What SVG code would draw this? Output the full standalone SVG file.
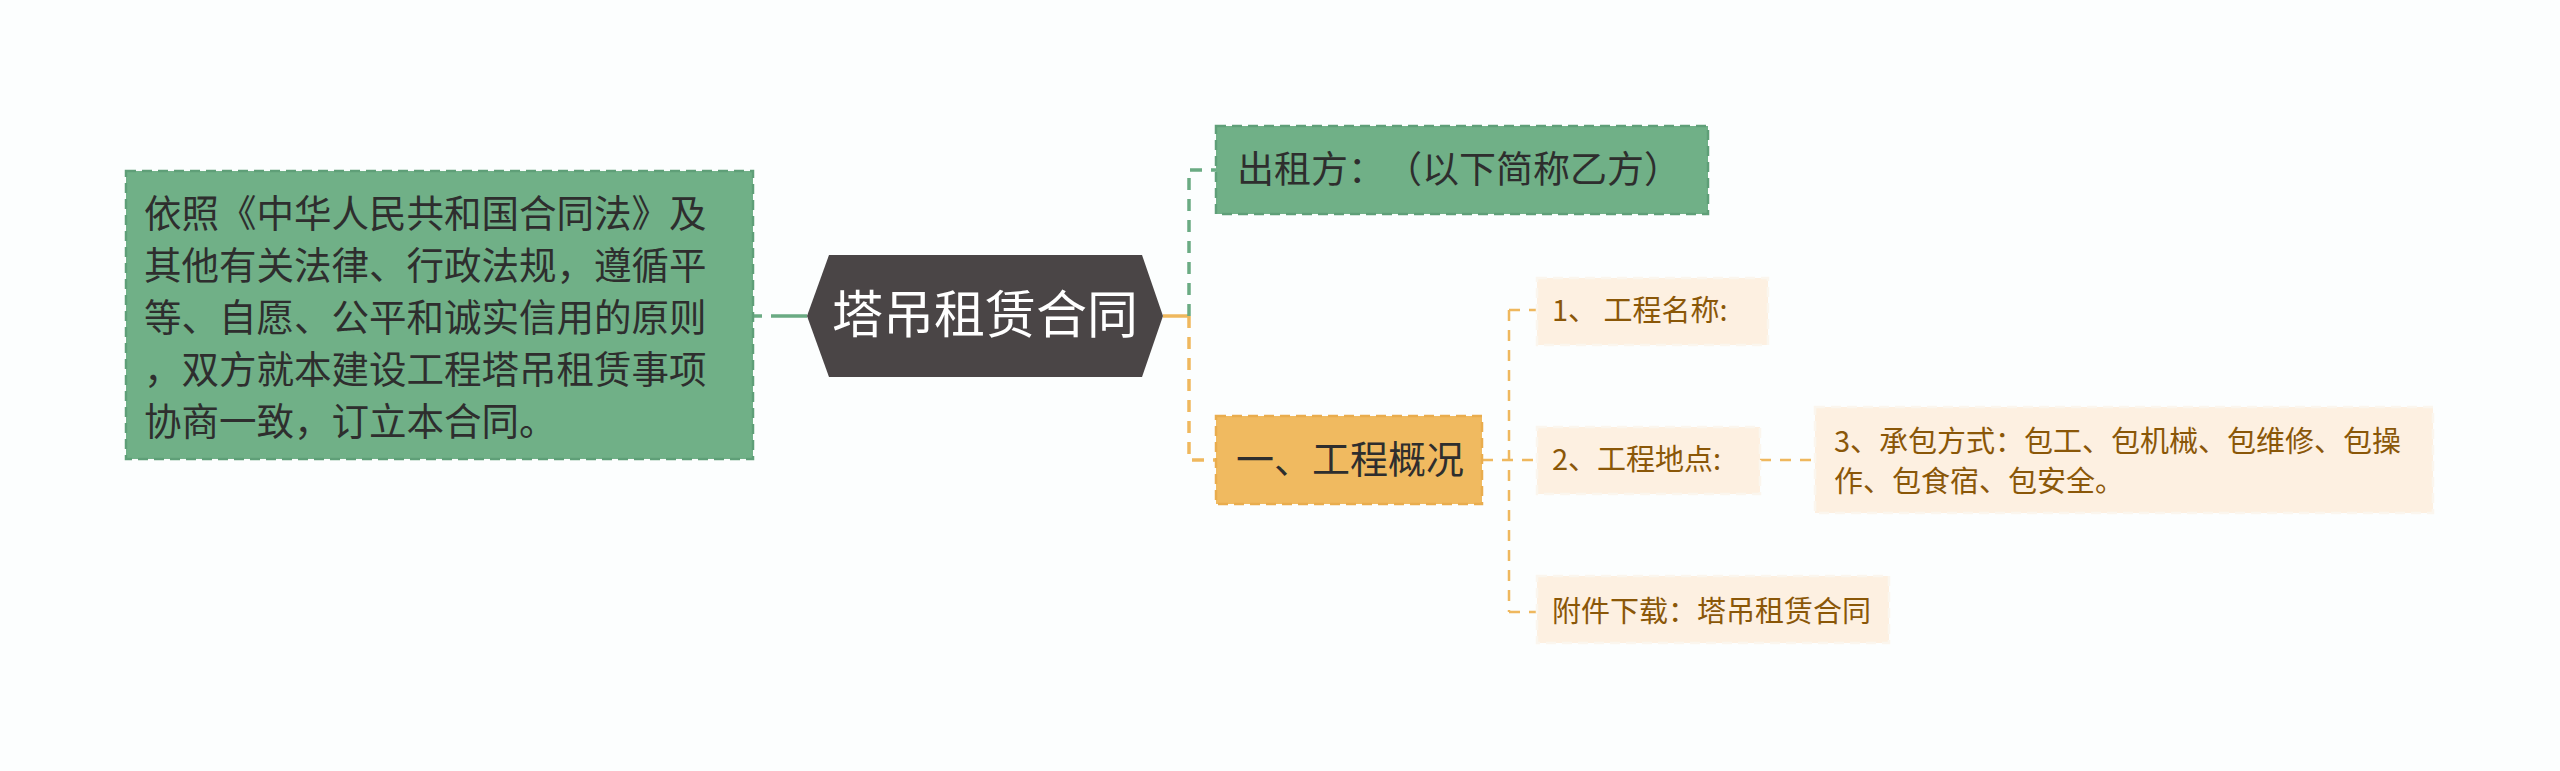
<svg xmlns="http://www.w3.org/2000/svg" width="2560" height="771" viewBox="0 0 2560 771">
<style>
.bg{fill:#fcfefe}
.gbox{fill:#70b087;stroke:#5f9f78;stroke-width:2.5;stroke-dasharray:10 6}
.obox{fill:#f0ba60;stroke:#e9ad4e;stroke-width:2.5;stroke-dasharray:10 6}
.lbox{fill:#fdf0e1;stroke:#fbf6ee;stroke-width:2.5;stroke-dasharray:10 6}
.t{font-family:"Noto Sans CJK SC","Noto Sans",sans-serif;text-spacing-trim:space-all}
.dk{fill:#2e2e2e}
.br{fill:#8a5708}
.cg{stroke:#6aab83;stroke-width:3.5;fill:none}
.co{stroke:#efb85e;stroke-width:3.5;fill:none}
.dash{stroke-dasharray:12 9}
.dash2{stroke-width:2.5;stroke-dasharray:11 9}
</style>
<rect class="bg" x="0" y="0" width="2560" height="771"/>
<g id="connectors">
<path class="cg" d="M753 316 H762 M771 316 H807"/>
<path class="co" d="M1163 316 H1189"/>
<path class="cg dash" d="M1189 316 V170 H1216"/>
<path class="co dash" d="M1189 316 V460 H1216"/>
<path class="co dash2" d="M1482 460 H1537"/>
<path class="co dash2" d="M1509 310 V612"/>
<path class="co dash2" d="M1509 310 H1537 M1509 612 H1537"/>
<path class="co dash2" d="M1760 460 H1815"/>
</g>
<g id="node-left">
<rect class="gbox" x="126" y="171" width="627" height="288"/>
<text class="t dk" font-size="37.5">
<tspan x="144" y="227">依照《中华人民共和国合同法》及</tspan>
<tspan x="144" y="279">其他有关法律、行政法规，遵循平</tspan>
<tspan x="144" y="331">等、自愿、公平和诚实信用的原则</tspan>
<tspan x="144" y="383">，双方就本建设工程塔吊租赁事项</tspan>
<tspan x="144" y="435">协商一致，订立本合同。</tspan>
</text>
</g>
<g id="node-root">
<polygon points="807,316 829,255 1142,255 1163,316 1142,377 829,377" fill="#4a4546"/>
<text class="t" font-size="51" fill="#ffffff" x="985" y="333" text-anchor="middle">塔吊租赁合同</text>
</g>
<g id="node-lessor">
<rect class="gbox" x="1216" y="126" width="492" height="88"/>
<text class="t dk" font-size="37" x="1237" y="183">出租方：（以下简称乙方）</text>
</g>
<g id="node-overview">
<rect class="obox" x="1216" y="416" width="266" height="88"/>
<text class="t dk" font-size="38" x="1236" y="473">一、工程概况</text>
</g>
<g id="node-name">
<rect class="lbox" x="1537" y="278" width="231" height="67"/>
<text class="t br" font-size="29" x="1552" y="321">1、 工程名称:</text>
</g>
<g id="node-place">
<rect class="lbox" x="1537" y="427" width="223" height="67"/>
<text class="t br" font-size="29" x="1552" y="470">2、工程地点:</text>
</g>
<g id="node-attach">
<rect class="lbox" x="1537" y="576" width="352" height="67"/>
<text class="t br" font-size="29" x="1552" y="622">附件下载：塔吊租赁合同</text>
</g>
<g id="node-contract">
<rect class="lbox" x="1815" y="407" width="618" height="106"/>
<text class="t br" font-size="29">
<tspan x="1834" y="452">3、承包方式：包工、包机械、包维修、包操</tspan>
<tspan x="1834" y="492">作、包食宿、包安全。</tspan>
</text>
</g>
</svg>
